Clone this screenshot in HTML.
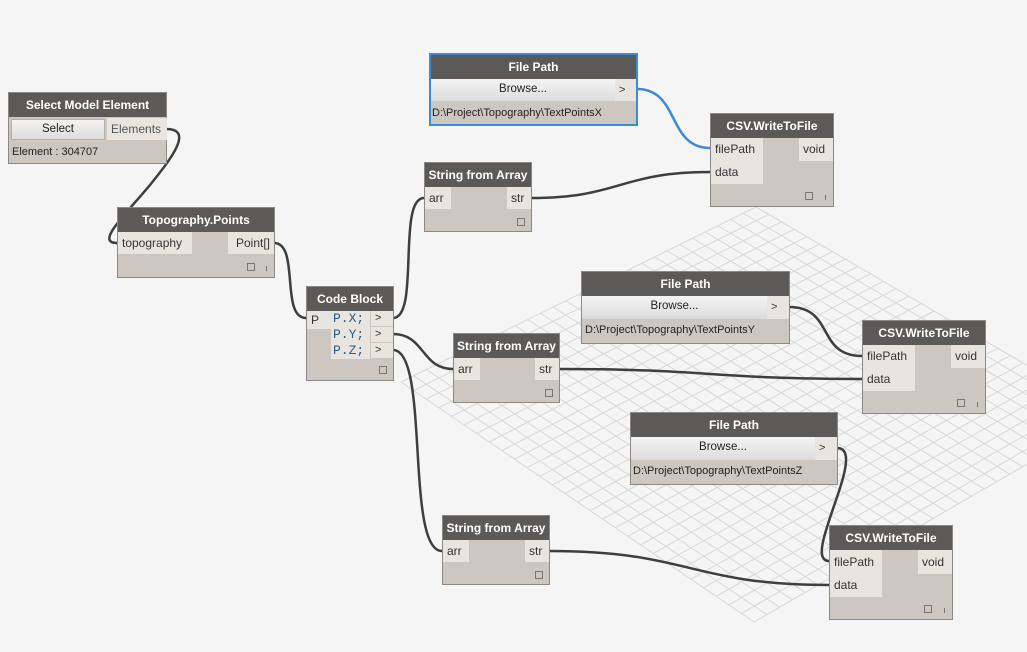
<!DOCTYPE html>
<html><head><meta charset="utf-8"><style>
html,body{margin:0;width:1027px;height:652px;overflow:hidden;}
body{background:#f5f5f5;position:relative;font-family:"Segoe UI","Liberation Sans",sans-serif;}
.n{position:absolute;background:#ccc8c1;border:1px solid #8c8985;box-sizing:border-box;}
.t{background:#5c5a58;color:#fff;font-weight:bold;font-size:12px;text-align:center;height:24px;line-height:24px;}
.lab{position:absolute;background:#e8e5e0;color:#333;font-size:12px;height:22px;line-height:22px;padding:0 4px;box-sizing:border-box;}
.btn{position:absolute;background:linear-gradient(#f4f4f4,#dcdcdc);border:1px solid #b0b0b0;box-sizing:border-box;font-size:11.5px;text-align:center;color:#222;}
.txt{position:absolute;font-size:11px;color:#222;}
.sq{position:absolute;width:8px;height:8px;border:1px solid #777;box-sizing:border-box;}
.bar{position:absolute;width:1px;height:5px;background:#777;}
.mono{font-family:"Liberation Mono",monospace;color:#2a5a8a;font-size:13px;}
svg{position:absolute;left:0;top:0;}
</style></head><body>
<svg width="1027" height="652" id="grid"></svg>
<script>
(function(){var s=document.getElementById('grid'),ns='http://www.w3.org/2000/svg';
var T=[756,207],R=[1112,415],B=[754,622],L=[401,382],N=28;
var g=document.createElementNS(ns,'g');g.setAttribute('stroke','#d8d8d8');g.setAttribute('stroke-width','1');
function ln(a,b){var l=document.createElementNS(ns,'line');l.setAttribute('x1',a[0]);l.setAttribute('y1',a[1]);l.setAttribute('x2',b[0]);l.setAttribute('y2',b[1]);g.appendChild(l);}
function lerp(a,b,t){return [a[0]+(b[0]-a[0])*t,a[1]+(b[1]-a[1])*t];}
for(var i=0;i<=N;i++){var t=i/N;ln(lerp(T,L,t),lerp(R,B,t));ln(lerp(T,R,t),lerp(L,B,t));}
s.appendChild(g);})();
</script>
<svg width="1027" height="652" fill="none" stroke="#3e3e3e" stroke-width="2.5">
<path d="M166,129 C195,129 170,160 150,185 C125,215 95,243 117,243"/>
<path d="M274,243 C300,243 280,318 306,318"/>
<path d="M393,318 C420,318 397,198 424,198"/>
<path d="M393,334 C425,334 421,369 453,369"/>
<path d="M393,350 C430,350 405,551 442,551"/>
<path d="M531,198 C620,198 620,172 710,172"/>
<path d="M637,89 C680,89 667,148 710,148" stroke="#3d8bd6"/>
<path d="M789,307 C835,307 816,356 862,356"/>
<path d="M559,369 C710,369 710,379 862,379"/>
<path d="M837,448 C870,448 800,561 829,561"/>
<path d="M549,551 C690,551 690,585 829,585"/>
</svg>

<div class="n" style="left:8px;top:92px;width:159px;height:72px;">
<div class="t">Select Model Element</div>
<div class="btn" style="left:2px;top:26px;width:94px;height:21px;line-height:19px;">Select</div>
<div class="lab" style="left:98px;top:25px;width:60px;color:#555;">Elements</div>
<div class="txt" style="left:3px;top:53px;">Element : 304707</div>
</div>
<div class="n" style="left:117px;top:207px;width:158px;height:71px;">
<div class="t">Topography.Points</div>
<div class="lab" style="left:0;top:24px;width:74px;">topography</div>
<div class="lab" style="left:110px;top:24px;width:46px;text-align:right;">Point[]</div>
<div class="sq" style="left:129px;top:55px"></div><div class="bar" style="left:148px;top:58px"></div>
</div>
<div class="n" style="left:306px;top:286px;width:88px;height:95px;">
<div class="t">Code Block</div>
<div class="lab" style="left:0;top:24px;width:24px;height:18px;line-height:18px;">P</div>
<div style="position:absolute;left:24px;top:24px;width:39px;height:48px;background:#e8e5e0;"></div>
<div class="mono" style="position:absolute;left:26px;top:24px;line-height:16px;">P.X;<br>P.Y;<br>P.Z;</div>
<div class="lab" style="left:64px;top:24px;width:22px;height:15px;line-height:15px;font-size:11px;">&gt;</div>
<div class="lab" style="left:64px;top:40px;width:22px;height:15px;line-height:15px;font-size:11px;">&gt;</div>
<div class="lab" style="left:64px;top:56px;width:22px;height:15px;line-height:15px;font-size:11px;">&gt;</div>
<div class="sq" style="left:72px;top:79px"></div>
</div>
<div class="n" style="left:424px;top:162px;width:108px;height:70px;">
<div class="t">String from Array</div>
<div class="lab" style="left:0;top:24px;width:26px;">arr</div>
<div class="lab" style="left:82px;top:24px;width:24px;">str</div>
<div class="sq" style="left:92px;top:55px"></div>
</div>
<div class="n" style="left:453px;top:333px;width:107px;height:70px;">
<div class="t">String from Array</div>
<div class="lab" style="left:0;top:24px;width:26px;">arr</div>
<div class="lab" style="left:81px;top:24px;width:24px;">str</div>
<div class="sq" style="left:91px;top:55px"></div>
</div>
<div class="n" style="left:442px;top:515px;width:108px;height:70px;">
<div class="t">String from Array</div>
<div class="lab" style="left:0;top:24px;width:26px;">arr</div>
<div class="lab" style="left:82px;top:24px;width:24px;">str</div>
<div class="sq" style="left:92px;top:55px"></div>
</div>
<div class="n" style="left:429px;top:53px;width:209px;height:73px;border:2px solid #3d8bd6;">
<div class="t">File Path</div>
<div class="btn" style="left:0;top:24px;width:184px;height:22px;line-height:20px;border:none;">Browse...</div>
<div class="lab" style="left:184px;top:24px;width:21px;height:22px;font-size:11px;">&gt;</div>
<div class="txt" style="left:1px;top:52px;">D:\Project\Topography\TextPointsX</div>
</div>
<div class="n" style="left:581px;top:271px;width:209px;height:73px;">
<div class="t">File Path</div>
<div class="btn" style="left:0;top:24px;width:185px;height:23px;line-height:21px;border:none;">Browse...</div>
<div class="lab" style="left:185px;top:24px;width:22px;height:23px;font-size:11px;">&gt;</div>
<div class="txt" style="left:3px;top:52px;">D:\Project\Topography\TextPointsY</div>
</div>
<div class="n" style="left:630px;top:412px;width:208px;height:73px;">
<div class="t">File Path</div>
<div class="btn" style="left:0;top:24px;width:184px;height:23px;line-height:21px;border:none;">Browse...</div>
<div class="lab" style="left:184px;top:24px;width:22px;height:23px;font-size:11px;">&gt;</div>
<div class="txt" style="left:2px;top:52px;">D:\Project\Topography\TextPointsZ</div>
</div>
<div class="n" style="left:710px;top:113px;width:124px;height:94px;">
<div class="t">CSV.WriteToFile</div>
<div class="lab" style="left:0;top:24px;width:52px;height:23px;line-height:23px;">filePath</div>
<div class="lab" style="left:0;top:47px;width:52px;height:23px;line-height:23px;">data</div>
<div class="lab" style="left:88px;top:24px;width:34px;height:23px;line-height:23px;">void</div>
<div class="sq" style="left:94px;top:78px"></div><div class="bar" style="left:114px;top:81px"></div>
</div>
<div class="n" style="left:862px;top:320px;width:124px;height:94px;">
<div class="t">CSV.WriteToFile</div>
<div class="lab" style="left:0;top:24px;width:52px;height:23px;line-height:23px;">filePath</div>
<div class="lab" style="left:0;top:47px;width:52px;height:23px;line-height:23px;">data</div>
<div class="lab" style="left:88px;top:24px;width:34px;height:23px;line-height:23px;">void</div>
<div class="sq" style="left:94px;top:78px"></div><div class="bar" style="left:114px;top:81px"></div>
</div>
<div class="n" style="left:829px;top:525px;width:124px;height:95px;">
<div class="t">CSV.WriteToFile</div>
<div class="lab" style="left:0;top:24px;width:52px;height:24px;line-height:24px;">filePath</div>
<div class="lab" style="left:0;top:48px;width:52px;height:23px;line-height:23px;">data</div>
<div class="lab" style="left:88px;top:24px;width:34px;height:24px;line-height:24px;">void</div>
<div class="sq" style="left:94px;top:79px"></div><div class="bar" style="left:114px;top:82px"></div>
</div>
</body></html>
